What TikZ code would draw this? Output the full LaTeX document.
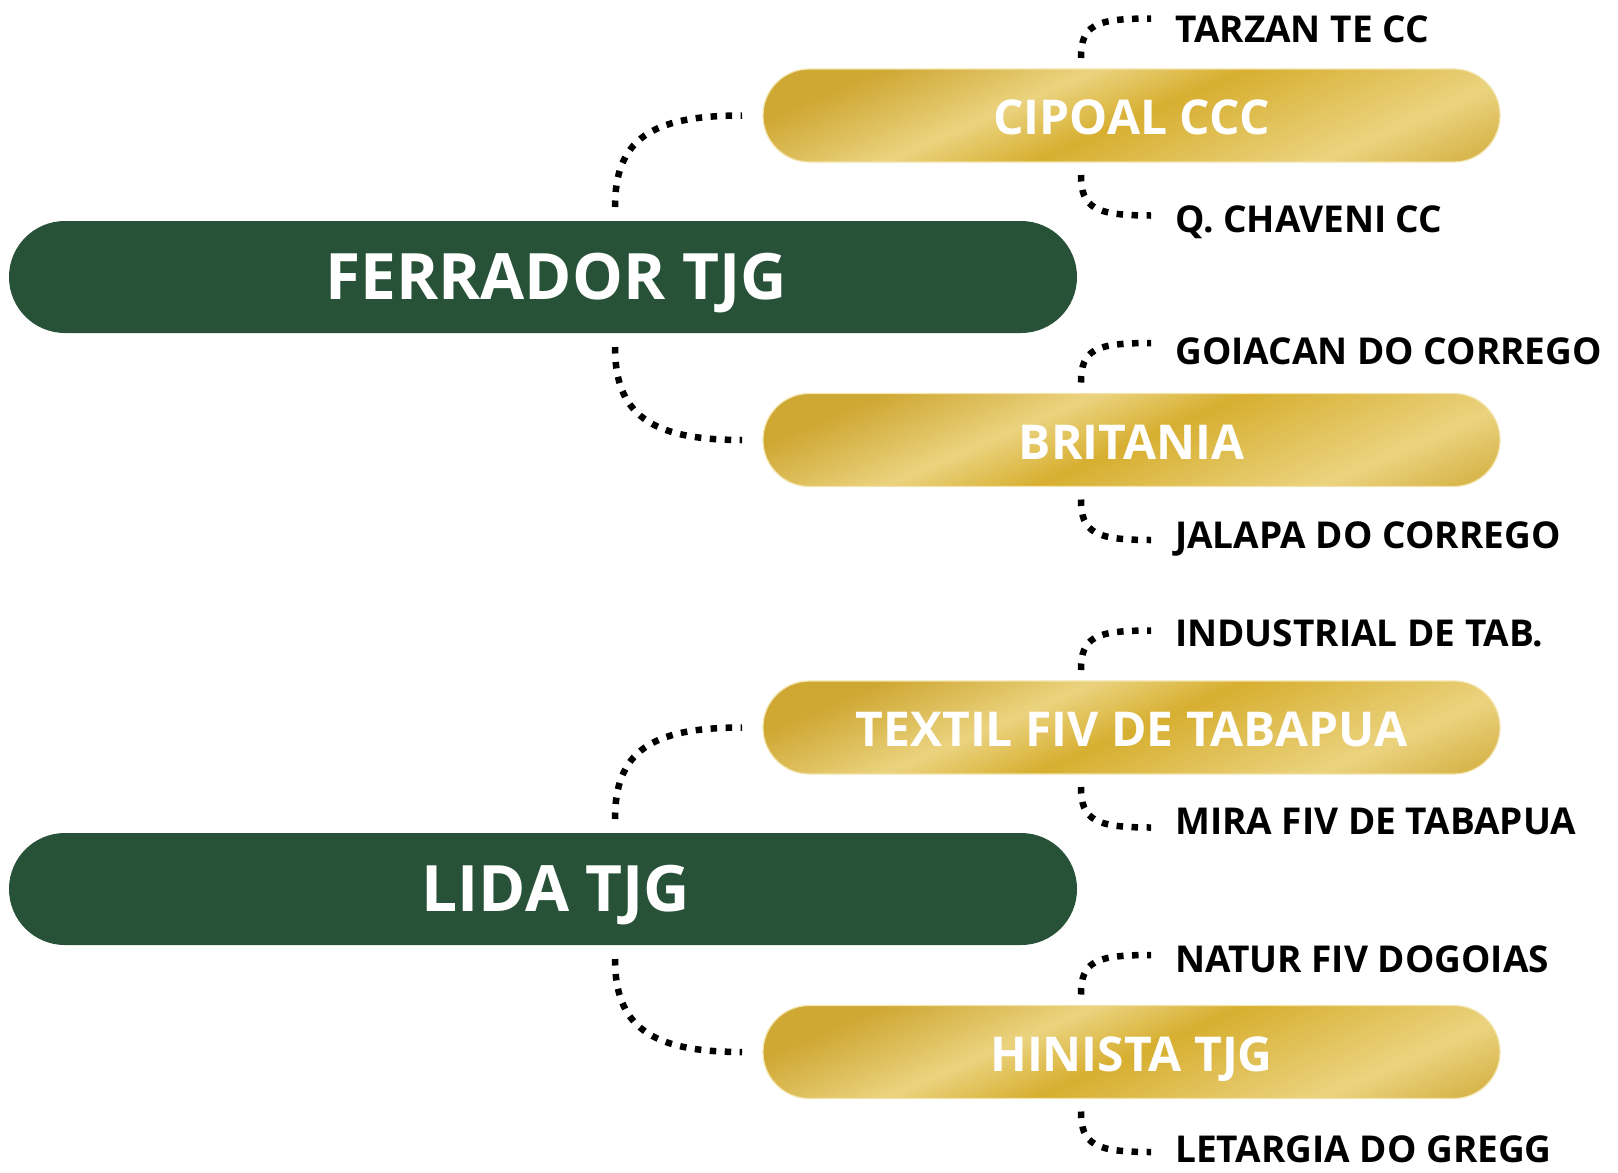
\documentclass[tikz,border=0pt]{standalone}
\usepackage{fontspec}
\setmainfont{Open Sans}
\usetikzlibrary{calc}
\definecolor{barGreen}{HTML}{285238}
\definecolor{gD}{HTML}{CFA733}
\definecolor{gDB}{HTML}{D7AF31}
\definecolor{gL}{HTML}{EBD37F}
\definecolor{gEdge}{HTML}{F2E4AC}
\tikzset{
  greenbar/.style={rectangle, rounded corners=55.9pt, fill=barGreen, minimum width=1068pt, minimum height=112pt, inner sep=0pt, outer sep=0pt},
  goldbox/.style={rectangle, minimum width=737pt, minimum height=93pt, inner sep=0pt, outer sep=0pt},
  bigtext/.style={text=white, font=\bfseries\fontsize{64}{70}\selectfont, inner sep=0pt, anchor=base},
  goldtext/.style={text=white, font=\bfseries\fontsize{48}{54}\selectfont, inner sep=0pt, anchor=base},
  leaftext/.style={text=black, font=\bfseries\fontsize{37}{42}\selectfont, inner sep=0pt, anchor=base west},
  dotline/.style={line width=6.5pt, dash pattern=on 6.5pt off 8.5pt, black},
}
\newcommand\goldfill[1]{%
  \begin{scope}
    \clip[rounded corners=46.4pt] (#1.south west) rectangle (#1.north east);
    \begin{scope}[shift={(#1.center)}]
      \foreach \a/\b/\ca/\cb in {-130/10/gD/gD, 10/226/gD/gL, 226/376/gL/gDB, 376/661/gDB/gL, 661/870/gL/gD}{
        \pgfmathtruncatemacro\nsteps{(\b-\a)/4}
        \foreach \i in {0,...,\nsteps}{
          \pgfmathsetmacro\sA{\a+4*\i}
          \pgfmathtruncatemacro\pmix{100*\i/max(\nsteps,1)}
          \fill[\cb!\pmix!\ca] (\sA-483.5,50) -- (\sA-478,50) -- (\sA-248,-50) -- (\sA-253.5,-50) -- cycle;
        }
      }
    \end{scope}
  \end{scope}
  \draw[gEdge, line width=1.2pt, rounded corners=46.4pt] (#1.south west) rectangle (#1.north east);
}
\begin{document}
\begin{tikzpicture}[x=1pt,y=-1pt]
\useasboundingbox (0,0) rectangle (1618,1173);

% main bars
\node[greenbar] (ferrador) at (543,277) {};
\node[bigtext] (ferradorT) at (556,299) {FERRADOR TJG};
\node[greenbar] (lida) at (543,889) {};
\node[bigtext] (lidaT) at (556,911) {LIDA TJG};

% gold bars
\node[goldbox] (cipoal) at (1131.5,115.5) {};
\goldfill{cipoal}
\node[goldtext] (cipoalT) at (1131.5,134.5) {CIPOAL CCC};
\node[goldbox] (britania) at (1131.5,440) {};
\goldfill{britania}
\node[goldtext] (britaniaT) at (1131.5,459) {BRITANIA};
\node[goldbox] (textil) at (1131.5,727.5) {};
\goldfill{textil}
\node[goldtext] (textilT) at (1131.5,746) {TEXTIL FIV DE TABAPUA};
\node[goldbox] (hinista) at (1131.5,1052) {};
\goldfill{hinista}
\node[goldtext] (hinistaT) at (1131.5,1071) {HINISTA TJG};

% leaf labels
\node[leaftext] (tarzan) at (1175,42) {TARZAN TE CC};
\node[leaftext] (qchaveni) at (1175,232) {Q. CHAVENI CC};
\node[leaftext] (goiacan) at (1175,364) {GOIACAN DO CORREGO};
\node[leaftext] (jalapa) at (1175,548) {JALAPA DO CORREGO};
\node[leaftext] (industrial) at (1175,646) {INDUSTRIAL DE TAB.};
\node[leaftext] (mira) at (1175,834) {MIRA FIV DE TABAPUA};
\node[leaftext] (natur) at (1175,972) {NATUR FIV DOGOIAS};
\node[leaftext] (letargia) at (1175,1162) {LETARGIA DO GREGG};

% main connectors
\draw[dotline] ([xshift=72pt,yshift=14pt]ferrador.north) .. controls +(0,-67) and +(-92,0) .. ([xshift=-21pt]cipoal.west);
\draw[dotline] ([xshift=72pt,yshift=-14pt]ferrador.south) .. controls +(0,67) and +(-92,0) .. ([xshift=-21pt]britania.west);
\draw[dotline] ([xshift=72pt,yshift=14pt]lida.north) .. controls +(0,-67) and +(-92,0) .. ([xshift=-21pt]textil.west);
\draw[dotline] ([xshift=72pt,yshift=-14pt]lida.south) .. controls +(0,67) and +(-92,0) .. ([xshift=-21pt]hinista.west);

% leaf connectors
\draw[dotline] ([xshift=-50.5pt,yshift=11pt]cipoal.north) .. controls +(0,-33) and +(-56,0) .. ($(tarzan.west |- cipoal.center)+(-24,-97)$);
\draw[dotline] ([xshift=-50.5pt,yshift=-13pt]cipoal.south) .. controls +(0,33) and +(-56,0) .. ($(qchaveni.west |- cipoal.center)+(-24,100)$);
\draw[dotline] ([xshift=-50.5pt,yshift=11pt]britania.north) .. controls +(0,-33) and +(-56,0) .. ($(goiacan.west |- britania.center)+(-24,-97)$);
\draw[dotline] ([xshift=-50.5pt,yshift=-13pt]britania.south) .. controls +(0,33) and +(-56,0) .. ($(jalapa.west |- britania.center)+(-24,100)$);
\draw[dotline] ([xshift=-50.5pt,yshift=11pt]textil.north) .. controls +(0,-33) and +(-56,0) .. ($(industrial.west |- textil.center)+(-24,-97)$);
\draw[dotline] ([xshift=-50.5pt,yshift=-13pt]textil.south) .. controls +(0,33) and +(-56,0) .. ($(mira.west |- textil.center)+(-24,100)$);
\draw[dotline] ([xshift=-50.5pt,yshift=11pt]hinista.north) .. controls +(0,-33) and +(-56,0) .. ($(natur.west |- hinista.center)+(-24,-97)$);
\draw[dotline] ([xshift=-50.5pt,yshift=-13pt]hinista.south) .. controls +(0,33) and +(-56,0) .. ($(letargia.west |- hinista.center)+(-24,100)$);
\end{tikzpicture}
\end{document}
